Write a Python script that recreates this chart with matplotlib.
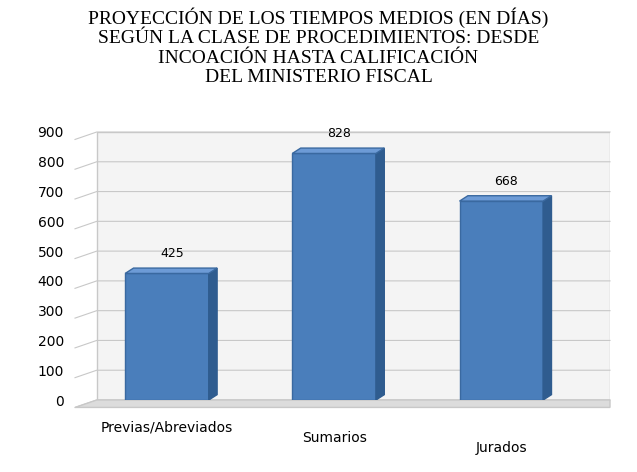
import matplotlib.pyplot as plt
from matplotlib.patches import Polygon

categories = ['Previas/Abreviados', 'Sumarios', 'Jurados']
values = [425, 828, 668]
yticks = [0, 100, 200, 300, 400, 500, 600, 700, 800, 900]
title = ('PROYECCIÓN DE LOS TIEMPOS MEDIOS (EN DÍAS)\n'
         'SEGÚN LA CLASE DE PROCEDIMIENTOS: DESDE\n'
         'INCOACIÓN HASTA CALIFICACIÓN\n'
         'DEL MINISTERIO FISCAL')

fig = plt.figure(figsize=(6.37, 4.72), dpi=100)
ax = fig.add_axes([75 / 637, 72 / 472, 535 / 637, 268 / 472])
ax.set_xlim(-0.55, 2.65)
ax.set_ylim(0, 900)

# back wall + grid
ax.add_patch(Polygon([(-0.42, 0), (-0.42, 900), (2.65, 900), (2.65, 0)],
                     closed=True, facecolor='#f4f4f4', edgecolor='#c8c8c8', zorder=0))
for t in yticks:
    ax.plot([-0.55, -0.42, 2.65], [t - 25, t, t], color='#c8c8c8', lw=0.8, zorder=1, clip_on=False)
ax.add_patch(Polygon([(-0.55, -25), (-0.42, 0), (2.65, 0), (2.65, -25)],
                     closed=True, facecolor='#dcdcdc', edgecolor='#c8c8c8', zorder=1, clip_on=False))

pos = [0, 1, 2]
w = 0.5
dx, dy = 0.05, 18
bars = ax.bar(pos, values, width=w, color='#4a7ebb', edgecolor='#3a69a0', zorder=3)
for x, v in zip(pos, values):
    # side face
    ax.add_patch(Polygon([(x + w / 2, 0), (x + w / 2 + dx, dy), (x + w / 2 + dx, v + dy), (x + w / 2, v)],
                         closed=True, facecolor='#2f5c8f', edgecolor='#2f5c8f', zorder=3))
    # top face
    ax.add_patch(Polygon([(x - w / 2, v), (x - w / 2 + dx, v + dy), (x + w / 2 + dx, v + dy), (x + w / 2, v)],
                         closed=True, facecolor='#6d9bd6', edgecolor='#3a69a0', zorder=3))
    ax.text(x + 0.03, v + 45, str(v), ha='center', va='bottom', fontsize=9)

ax.set_yticks(yticks)
ax.tick_params(axis='y', length=0, labelsize=10, pad=8)
ax.set_xticks([])
for s in ax.spines.values():
    s.set_visible(False)
for x, c, off in zip(pos, categories, [-94, -128, -161]):
    ax.text(x, off, c, ha='center', va='center', fontsize=10)

fig.text(0.5, 0.985, title, ha='center', va='top', fontsize=14,
         family='Liberation Serif', linespacing=1.2)
fig.savefig('out.png', dpi=100)
